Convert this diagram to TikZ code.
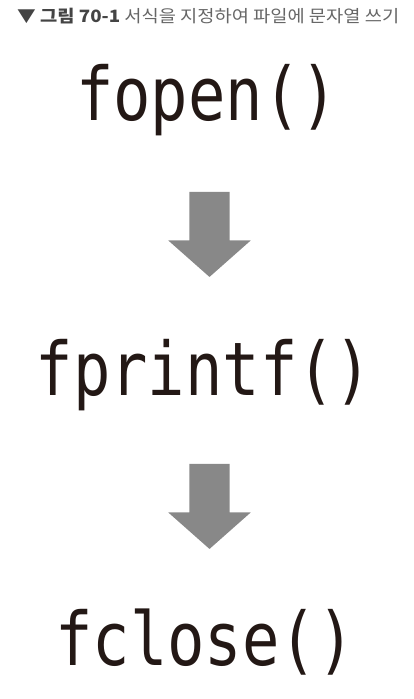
\documentclass[tikz,border=0pt]{standalone}
\usepackage{fontspec}
\setmainfont{Noto Sans CJK KR}
\newfontfamily\codefont{DejaVu Sans Mono}
\usetikzlibrary{shapes.arrows}
\definecolor{inkcol}{HTML}{231815}
\definecolor{arrowcol}{HTML}{888888}
\definecolor{titlecol}{HTML}{444444}
\definecolor{capcol}{HTML}{666666}
\tikzset{
  func/.style={anchor=base, inner sep=0pt, text=inkcol, xscale=0.84,
    font=\codefont\fontsize{74}{74}\selectfont},
  downarrow/.style={single arrow, rotate=-90, fill=arrowcol, draw=none,
    inner xsep=0pt, inner ysep=20pt, minimum height=85pt,
    single arrow head extend=21pt, single arrow tip angle=97},
}

\begin{document}
\begin{tikzpicture}[x=1pt, y=-1pt]
\useasboundingbox (0,0) rectangle (414,699);
\node[anchor=west, inner sep=0pt, xscale=1.1, font=\fontsize{17}{18}\selectfont]
  (title) at (17,16) {\textcolor{titlecol}{\textbf{▼ 그림 70-1}} \textcolor{capcol}{서식을 지정하여 파일에 문자열 쓰기}};
\node[func] (open)  at (207,120) {fopen()};
\node[func] (print) at (204,395) {fprintf()};
\node[func] (close) at (205,665) {fclose()};
\node[downarrow] (down1) at (209.5,225.5) {};
\node[downarrow] (down2) at (209.5,497.5) {};
\end{tikzpicture}
\end{document}
